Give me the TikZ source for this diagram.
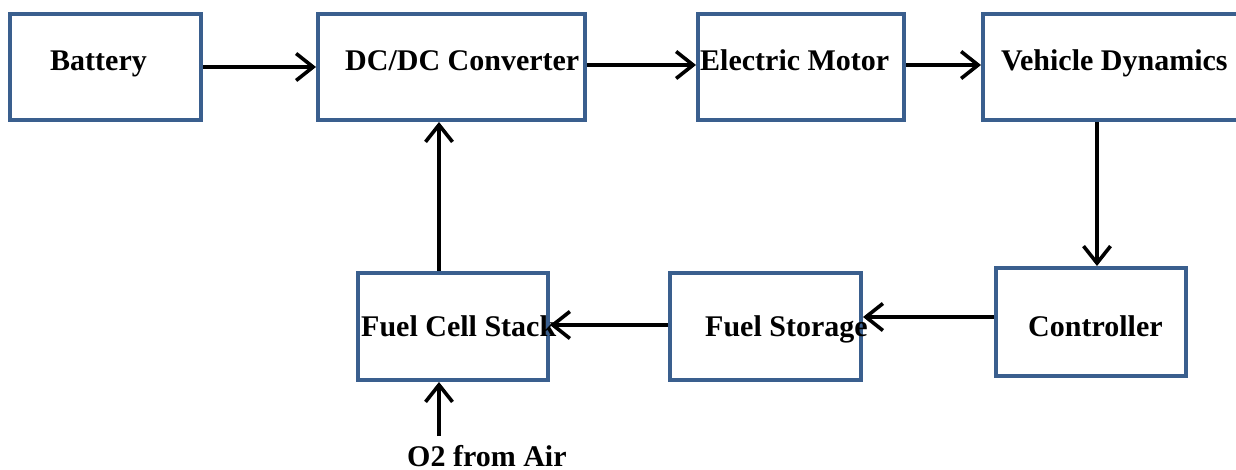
\documentclass[tikz,border=0pt]{standalone}
\usepackage{fontspec}
\setmainfont{Liberation Serif}
\usetikzlibrary{arrows.meta}
\definecolor{boxblue}{HTML}{3A5F8E}
\begin{document}
\begin{tikzpicture}[x=1pt,y=-1pt,
  blk/.style={draw=boxblue,line width=4pt,inner sep=0pt,rectangle},
  lbl/.style={anchor=base west,inner sep=0pt,font=\bfseries\fontsize{30}{36}\selectfont},
  arr/.style={line width=3.6pt,-{Straight Barb[length=17pt,width=27pt,line width=3.6pt]}}]
\useasboundingbox (0,0) rectangle (1236,470);
\clip (0,0) rectangle (1236,470);
% boxes
\node[blk,minimum width=191pt,minimum height=106pt] (bat) at (105.5,67) {};
\node[blk,minimum width=267pt,minimum height=106pt] (dc) at (451.5,67) {};
\node[blk,minimum width=206pt,minimum height=106pt] (em) at (801,67) {};
\node[blk,minimum width=277pt,minimum height=106pt] (vd) at (1121.5,67) {};
\node[blk,minimum width=190pt,minimum height=108pt] (ctl) at (1091,322) {};
\node[blk,minimum width=191pt,minimum height=107pt] (fs) at (765.5,326.5) {};
\node[blk,minimum width=190pt,minimum height=107pt] (fc) at (453,326.5) {};
% labels
\node[lbl] (tbat) at (50,71) {Battery};
\node[lbl] (tdc) at (345,71) {DC/DC Converter};
\node[lbl] (tem) at (700,71) {Electric Motor};
\node[lbl] (tvd) at (1001,71) {Vehicle Dynamics};
\node[lbl] (tfc) at (361,336) {Fuel Cell Stack};
\node[lbl] (tfs) at (705,336) {Fuel Storage};
\node[lbl] (tctl) at (1028,336) {Controller};
\node[lbl] (to2) at (407,466) {O2 from Air};
\coordinate (o2top) at (439,436);
% arrows
\draw[arr] (bat.east) -- (dc.west);
\draw[arr] ([yshift=2pt]dc.east) -- ([yshift=2pt]dc.east -| em.west);
\draw[arr] ([yshift=2pt]em.east) -- ([yshift=2pt]em.east -| vd.west);
\draw[arr] ([xshift=-24.5pt]vd.south) -- ([xshift=-24.5pt]vd.south |- ctl.north);
\draw[arr] ([yshift=5pt]ctl.west) -- ([yshift=5pt]ctl.west -| fs.east);
\draw[arr] ([yshift=1.5pt]fs.west) -- ([yshift=1.5pt]fs.west -| fc.east);
\draw[arr] ([xshift=-14pt]fc.north) -- ([xshift=-14pt]fc.north |- dc.south);
\draw[arr] (o2top) -- (o2top |- fc.south);
\end{tikzpicture}
\end{document}
